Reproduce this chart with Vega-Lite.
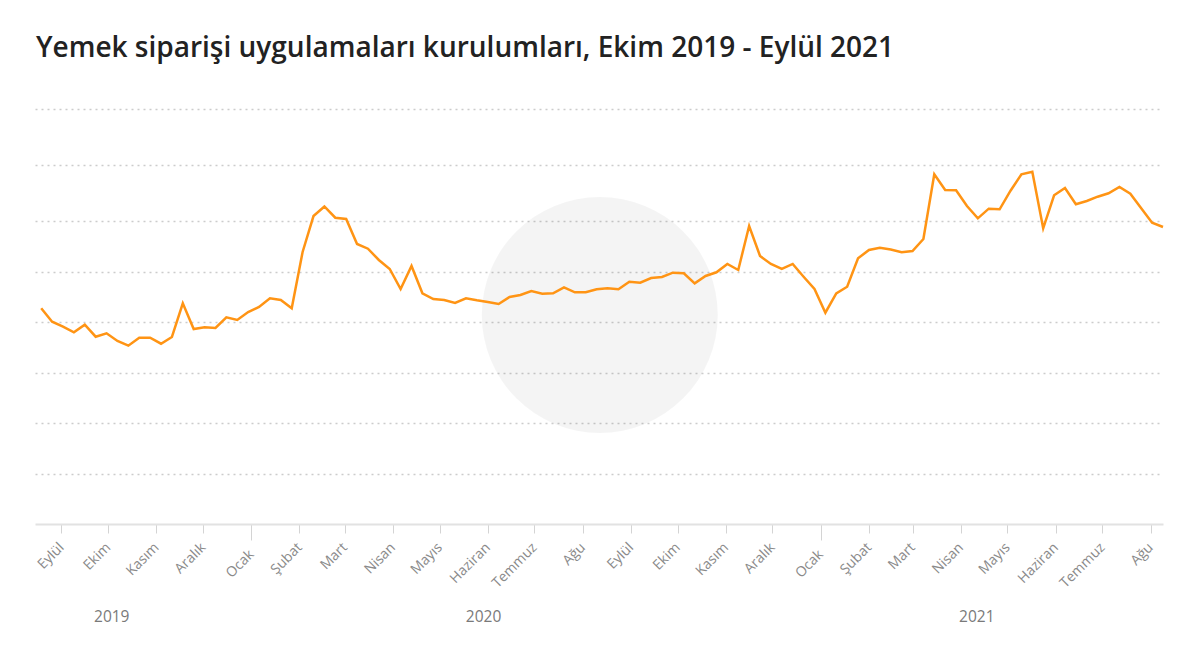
{
  "$schema": "https://vega.github.io/schema/vega-lite/v6.json",
  "width": 1128,
  "height": 415,
  "autosize": {"type": "none"},
  "padding": {"left": 35, "top": 109, "right": 37, "bottom": 142},
  "title": {
    "text": "Yemek siparişi uygulamaları kurulumları, Ekim 2019 - Eylül 2021",
    "anchor": "start",
    "frame": "group",
    "dx": 1,
    "offset": 24,
    "baseline": "alphabetic",
    "font": "Open Sans",
    "fontSize": 28,
    "fontWeight": 600,
    "color": "#222222"
  },
  "datasets": {
    "installs": [
      {"week": "2019-08-19", "index": 4.271},
      {"week": "2019-08-26", "index": 4.006},
      {"week": "2019-09-02", "index": 3.907},
      {"week": "2019-09-09", "index": 3.796},
      {"week": "2019-09-16", "index": 3.947},
      {"week": "2019-09-23", "index": 3.709},
      {"week": "2019-09-30", "index": 3.776},
      {"week": "2019-10-07", "index": 3.624},
      {"week": "2019-10-14", "index": 3.531},
      {"week": "2019-10-21", "index": 3.689},
      {"week": "2019-10-28", "index": 3.689},
      {"week": "2019-11-04", "index": 3.570},
      {"week": "2019-11-11", "index": 3.703},
      {"week": "2019-11-18", "index": 4.370},
      {"week": "2019-11-25", "index": 3.861},
      {"week": "2019-12-02", "index": 3.895},
      {"week": "2019-12-09", "index": 3.881},
      {"week": "2019-12-16", "index": 4.093},
      {"week": "2019-12-23", "index": 4.040},
      {"week": "2019-12-30", "index": 4.198},
      {"week": "2020-01-06", "index": 4.297},
      {"week": "2020-01-13", "index": 4.469},
      {"week": "2020-01-20", "index": 4.436},
      {"week": "2020-01-27", "index": 4.271},
      {"week": "2020-02-03", "index": 5.386},
      {"week": "2020-02-10", "index": 6.089},
      {"week": "2020-02-17", "index": 6.259},
      {"week": "2020-02-24", "index": 6.059},
      {"week": "2020-03-02", "index": 6.036},
      {"week": "2020-03-09", "index": 5.545},
      {"week": "2020-03-16", "index": 5.451},
      {"week": "2020-03-23", "index": 5.228},
      {"week": "2020-03-30", "index": 5.050},
      {"week": "2020-04-06", "index": 4.653},
      {"week": "2020-04-13", "index": 5.109},
      {"week": "2020-04-20", "index": 4.568},
      {"week": "2020-04-27", "index": 4.455},
      {"week": "2020-05-04", "index": 4.436},
      {"week": "2020-05-11", "index": 4.376},
      {"week": "2020-05-18", "index": 4.469},
      {"week": "2020-05-25", "index": 4.430},
      {"week": "2020-06-01", "index": 4.396},
      {"week": "2020-06-08", "index": 4.356},
      {"week": "2020-06-15", "index": 4.495},
      {"week": "2020-06-22", "index": 4.535},
      {"week": "2020-06-29", "index": 4.614},
      {"week": "2020-07-06", "index": 4.560},
      {"week": "2020-07-13", "index": 4.568},
      {"week": "2020-07-20", "index": 4.687},
      {"week": "2020-07-27", "index": 4.588},
      {"week": "2020-08-03", "index": 4.588},
      {"week": "2020-08-10", "index": 4.648},
      {"week": "2020-08-17", "index": 4.667},
      {"week": "2020-08-24", "index": 4.648},
      {"week": "2020-08-31", "index": 4.798},
      {"week": "2020-09-07", "index": 4.778},
      {"week": "2020-09-14", "index": 4.871},
      {"week": "2020-09-21", "index": 4.891},
      {"week": "2020-09-28", "index": 4.976},
      {"week": "2020-10-05", "index": 4.964},
      {"week": "2020-10-12", "index": 4.766},
      {"week": "2020-10-19", "index": 4.911},
      {"week": "2020-10-26", "index": 4.984},
      {"week": "2020-11-02", "index": 5.149},
      {"week": "2020-11-09", "index": 5.030},
      {"week": "2020-11-16", "index": 5.901},
      {"week": "2020-11-23", "index": 5.307},
      {"week": "2020-11-30", "index": 5.149},
      {"week": "2020-12-07", "index": 5.050},
      {"week": "2020-12-14", "index": 5.149},
      {"week": "2020-12-21", "index": 4.897},
      {"week": "2020-12-28", "index": 4.653},
      {"week": "2021-01-04", "index": 4.184},
      {"week": "2021-01-11", "index": 4.568},
      {"week": "2021-01-18", "index": 4.699},
      {"week": "2021-01-25", "index": 5.261},
      {"week": "2021-02-01", "index": 5.426},
      {"week": "2021-02-08", "index": 5.471},
      {"week": "2021-02-15", "index": 5.436},
      {"week": "2021-02-22", "index": 5.382},
      {"week": "2021-03-01", "index": 5.406},
      {"week": "2021-03-08", "index": 5.644},
      {"week": "2021-03-15", "index": 6.834},
      {"week": "2021-03-22", "index": 6.554},
      {"week": "2021-03-29", "index": 6.548},
      {"week": "2021-04-05", "index": 6.268},
      {"week": "2021-04-12", "index": 6.048},
      {"week": "2021-04-19", "index": 6.220},
      {"week": "2021-04-26", "index": 6.209},
      {"week": "2021-05-03", "index": 6.541},
      {"week": "2021-05-10", "index": 6.834},
      {"week": "2021-05-17", "index": 6.880},
      {"week": "2021-05-24", "index": 5.855},
      {"week": "2021-05-31", "index": 6.459},
      {"week": "2021-06-07", "index": 6.589},
      {"week": "2021-06-14", "index": 6.298},
      {"week": "2021-06-21", "index": 6.357},
      {"week": "2021-06-28", "index": 6.434},
      {"week": "2021-07-05", "index": 6.495},
      {"week": "2021-07-12", "index": 6.607},
      {"week": "2021-07-19", "index": 6.488},
      {"week": "2021-07-26", "index": 6.227},
      {"week": "2021-08-02", "index": 5.966},
      {"week": "2021-08-09", "index": 5.881}
    ],
    "watermark": [
      {"week": "2020-08-12", "index": 4.14}
    ]
  },
  "layer": [
    {
      "data": {"name": "watermark"},
      "mark": {"type": "point", "shape": "circle", "filled": true, "size": 55700, "color": "#000000", "opacity": 0.045, "strokeWidth": 0},
      "encoding": {
        "x": {
          "field": "week",
          "type": "temporal",
          "axis": {
            "orient": "bottom",
            "values": [
              {"year": 2019, "month": 10, "date": 3, "utc": true},
              {"year": 2020, "month": 5, "date": 29, "utc": true},
              {"year": 2021, "month": 4, "date": 11, "utc": true}
            ],
            "labelExpr": "utcFormat(datum.value, '%Y')",
            "ticks": false,
            "domain": false,
            "grid": false,
            "title": null,
            "labelAngle": 0,
            "labelAlign": "center",
            "labelBaseline": "top",
            "labelPadding": 85,
            "labelFont": "Open Sans",
            "labelFontSize": 15.5,
            "labelColor": "#7a7a7a",
            "labelFlush": false,
            "labelOverlap": false
          }
        },
        "y": {"field": "index", "type": "quantitative"}
      }
    },
    {
      "data": {"name": "installs"},
      "mark": {"type": "line", "color": "#ff9414", "strokeWidth": 2.5, "strokeJoin": "miter"},
      "encoding": {
        "x": {
          "field": "week",
          "type": "temporal",
          "scale": {
            "type": "utc",
            "domain": [
              {"year": 2019, "month": 8, "date": 15, "utc": true},
              {"year": 2021, "month": 8, "date": 9, "utc": true}
            ]
          },
          "axis": {
            "orient": "bottom",
            "tickCount": {"interval": "month", "step": 1},
            "labelExpr": "['Ocak','Şubat','Mart','Nisan','Mayıs','Haziran','Temmuz','Ağu','Eylül','Ekim','Kasım','Aralık'][utcmonth(datum.value)]",
            "grid": false,
            "title": null,
            "domainColor": "#e2e2e2",
            "domainWidth": 2,
            "tickColor": "#d4d4d4",
            "tickWidth": 1,
            "tickSize": {"condition": {"test": "utcmonth(datum.value) === 0", "value": 16}, "value": 9},
            "labelAngle": -45,
            "labelAlign": "right",
            "labelBaseline": "middle",
            "labelPadding": 12,
            "labelFont": "Open Sans",
            "labelFontSize": 14,
            "labelColor": "#8a8a8a",
            "labelFlush": false,
            "labelOverlap": false,
            "labelBound": false
          }
        },
        "y": {
          "field": "index",
          "type": "quantitative",
          "scale": {"domain": [0, 6, 8], "range": [415, 112, 0], "zero": false, "nice": false},
          "axis": {
            "values": [1, 2, 3, 4, 5, 6, 7, 8],
            "grid": true,
            "gridDash": [2, 4],
            "gridColor": "#cccccc",
            "gridWidth": 1.5,
            "labels": false,
            "ticks": false,
            "domain": false,
            "title": null
          }
        }
      }
    }
  ],
  "resolve": {"axis": {"x": "independent"}},
  "config": {"view": {"stroke": null}}
}
